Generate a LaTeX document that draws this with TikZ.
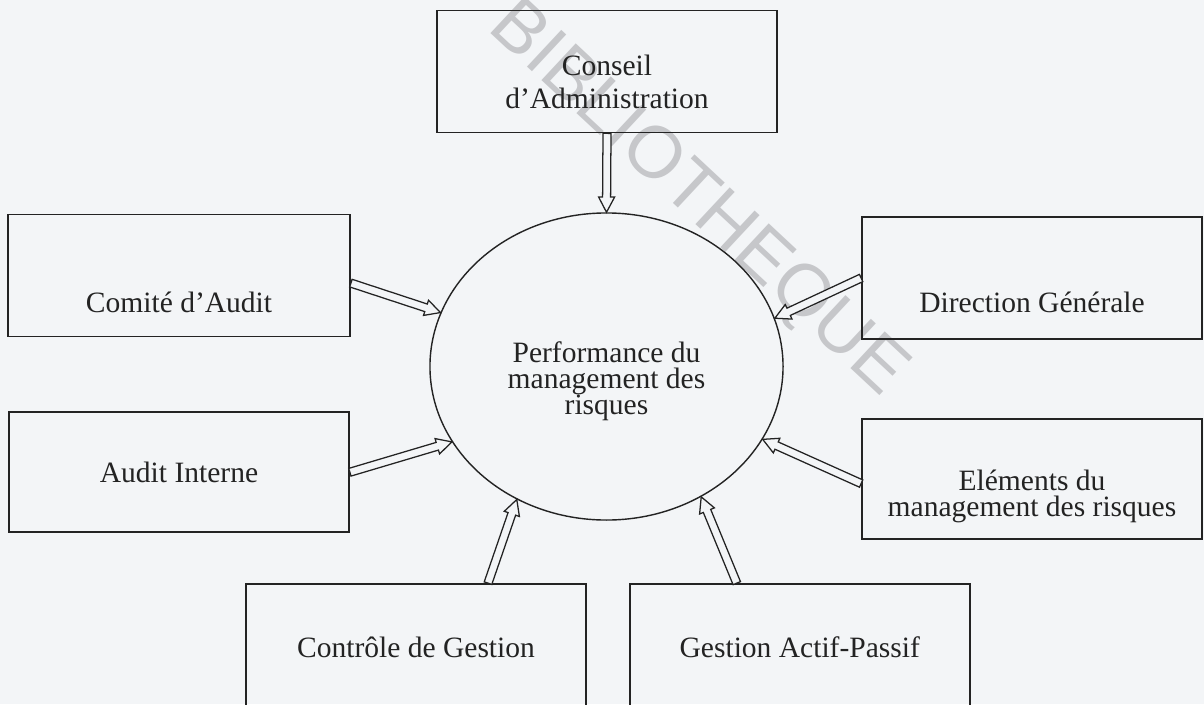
\documentclass[tikz,border=0pt]{standalone}
\usepackage{fontspec}
\setmainfont{Liberation Serif}
\newfontfamily\wmfont{Liberation Sans}
\usepackage{tikz}
\usetikzlibrary{positioning,shapes.geometric,calc}

\definecolor{paper}{RGB}{243,245,247}
\definecolor{ink}{RGB}{35,35,35}
\definecolor{wmgray}{RGB}{198,199,202}

\lineskiplimit=-100pt

% hollow block arrow from #1 to #2
\newcommand{\hollowarrow}[2]{%
  \path (#1) coordinate (ha-s) (#2) coordinate (ha-e);
  \path ($(ha-e)!0.38cm!(ha-s)$) coordinate (ha-n);
  \draw[hollow] ($(ha-s)!0.1cm!90:(ha-e)$) -- ($(ha-n)!0.1cm!90:(ha-e)$)
    -- ($(ha-n)!0.2cm!90:(ha-e)$) -- (ha-e)
    -- ($(ha-n)!0.2cm!-90:(ha-e)$) -- ($(ha-n)!0.1cm!-90:(ha-e)$)
    -- ($(ha-s)!0.1cm!-90:(ha-e)$) -- cycle;
}

\begin{document}
\begin{tikzpicture}[x=0.025cm, y=-0.025cm,
  box/.style={draw=ink, line width=1.2pt, minimum width=8.5cm, minimum height=3.05cm, inner sep=0pt},
  lbl/.style={text=ink, align=center, font=\fontsize{21pt}{18.5pt}\selectfont},
  widelbl/.style={lbl, font=\fontsize{21pt}{23.5pt}\selectfont},
  hollow/.style={draw=ink, line width=0.9pt, fill=paper, line join=miter},
]
\useasboundingbox[fill=paper] (0,0) rectangle (1204,704);
\clip (0,0) rectangle (1204,704);

\node[rotate=-43, text=wmgray, font=\wmfont\fontsize{52pt}{56pt}\selectfont] (wm) at (697,200) {BIBLIOTHEQUE};

\node[box, label={[widelbl, yshift=-0.25cm]center:{Conseil\\d’Administration}}] (conseil) at (607,71.5) {};
\node[box, minimum width=8.55cm, label={[lbl, yshift=-0.66cm]center:Comité d’Audit}] (comite) at (179,275.5) {};
\node[box, minimum height=3.0cm, below=1.85cm of comite, label={[lbl]center:Audit Interne}] (audit) {};
\node[box, label={[lbl, yshift=-0.6cm]center:Direction Générale}] (dg) at (1032,278) {};
\node[box, minimum height=3.0cm, below=1.95cm of dg, label={[lbl, yshift=-0.44cm]center:{Eléments du\\management des risques}}] (elem) {};
\node[box, minimum height=3.15cm, label={[lbl]center:Contrôle de Gestion}] (ctrl) at (416,647) {};
\node[box, minimum height=3.15cm, right=1.05cm of ctrl, label={[lbl]center:Gestion Actif-Passif}] (gap) {};
\node[draw=ink, line width=1pt, ellipse, minimum width=8.825cm, minimum height=7.675cm, inner sep=0pt,
  label={[lbl, yshift=-0.36cm]center:{Performance du\\management des\\risques}}] (perf) at (606.5,366.5) {};

\hollowarrow{conseil.south}{perf.north}
\hollowarrow{[yshift=-0.19cm]comite.east}{perf.162}
\hollowarrow{audit.east}{perf.206}
\hollowarrow{dg.west}{perf.16}
\hollowarrow{[yshift=-0.12cm]elem.west}{perf.335}
\hollowarrow{[xshift=1.8cm]ctrl.north}{perf.236}
\hollowarrow{[xshift=-1.575cm]gap.north}{perf.306}

\end{tikzpicture}
\end{document}
